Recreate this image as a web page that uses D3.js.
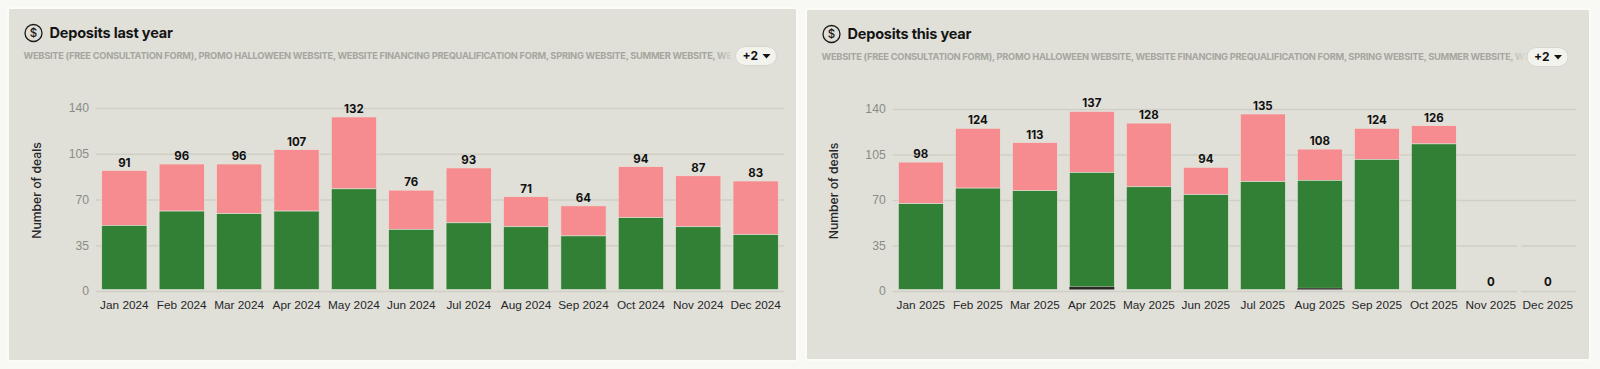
<!DOCTYPE html>
<html>
<head>
<meta charset="utf-8">
<script src="https://cdn.jsdelivr.net/npm/d3@7"></script>
<style>
  html, body { margin: 0; padding: 0; background: #f8f8f4; }
  svg { display: block; font-family: Inter, "Liberation Sans", sans-serif; }
  .grid line { stroke: #cfcfc6; stroke-width: 1.5; }
  .grid path, .axis path, .axis line { display: none; }
  .y-axis text { font-size: 12.2px; fill: #8b8b85; }
  .x-axis text { font-size: 11.8px; font-weight: 500; fill: #26262a; }
  .y-title { font-size: 12.2px; font-weight: 500; fill: #26262a; }
  .total { font-size: 11.5px; font-weight: 700; fill: #111; text-anchor: middle; }
  .title { font-size: 14.5px; font-weight: 700; fill: #141414; letter-spacing: -0.2px; }
  .sources { font-size: 9.3px; font-weight: 700; fill: #a6a69f; letter-spacing: -0.27px; }
  .more { font-size: 12px; font-weight: 700; fill: #111; }
</style>
</head>
<body>
<svg id="chart" width="1600" height="369"></svg>
<script>
const monthNames = ["Jan", "Feb", "Mar", "Apr", "May", "Jun", "Jul", "Aug", "Sep", "Oct", "Nov", "Dec"];
const yTicks = [0, 35, 70, 105, 140];
const sourcesText = "WEBSITE (FREE CONSULTATION FORM), PROMO HALLOWEEN WEBSITE, WEBSITE FINANCING PREQUALIFICATION FORM, SPRING WEBSITE, SUMMER WEBSITE, WE";

const months2024 = monthNames.map(m => `${m} 2024`);
const totals2024 = [91, 96, 96, 107, 132, 76, 93, 71, 64, 94, 87, 83];
const won2024 = [49, 60, 58, 60, 77, 46, 51, 48, 41, 55, 48, 42];
const dark2024 = [0, 0, 0, 0, 0, 0, 0, 0, 0, 0, 0, 0];

const months2025 = monthNames.map(m => `${m} 2025`);
const totals2025 = [98, 124, 113, 137, 128, 94, 135, 108, 124, 126, 0, 0];
const won2025 = [66, 78, 76, 88, 79, 73, 83, 83, 100, 112, 0, 0];
const dark2025 = [0, 0, 0, 2, 0, 0, 0, 1, 0, 0, 0, 0];

const colors = { dark: "#2b2a26", won: "#327f36", rest: "#f78c90" };

class DepositsPanel {
  constructor(svg, frame) {
    this.svg = svg;
    this.frame = frame;
  }

  draw(title, months, totals, won, dark) {
    const f = this.frame;
    const g = this.svg.append("g");

    g.append("rect")
      .attr("x", f.x).attr("y", f.y)
      .attr("width", f.w).attr("height", f.h)
      .attr("rx", 2)
      .attr("fill", "#e0e0d8")
      .attr("stroke", "#fbfbf8")
      .attr("stroke-width", 2);

    this.drawHeader(g, title);

    const x = d3.scaleBand().domain(months).range(f.xRange).paddingInner(0.212).paddingOuter(0.1);
    const y = d3.scaleLinear().domain([0, 140]).range(f.yRange);

    g.append("g")
      .attr("class", "grid")
      .attr("transform", `translate(${f.xRange[0]},0)`)
      .call(d3.axisLeft(y).tickValues(yTicks).tickSize(f.xRange[0] - f.xRange[1]).tickFormat(""));

    // the empty months break the two lowest grid lines, like the bars' pale edge does
    const last = months[months.length - 1];
    if (totals[totals.length - 1] === 0) {
      g.append("rect")
        .attr("x", x(last) - x.step() + x.bandwidth() + 4)
        .attr("y", y(35) - 2)
        .attr("width", 4)
        .attr("height", y(0) - y(35) + 4)
        .attr("fill", "#e0e0d8");
    }

    g.append("g")
      .attr("class", "axis y-axis")
      .attr("transform", `translate(${f.xRange[0] - 7},0)`)
      .call(d3.axisLeft(y).tickValues(yTicks).tickSize(0).tickPadding(0));

    g.append("g")
      .attr("class", "axis x-axis")
      .attr("transform", `translate(0,${f.yRange[0] + 4})`)
      .call(d3.axisBottom(x).tickSize(0).tickPadding(6));

    g.append("text")
      .attr("class", "y-title")
      .attr("text-anchor", "middle")
      .attr("transform", `translate(${f.xRange[0] - 55},${y(70) - 9}) rotate(-90)`)
      .text("Number of deals");

    const rows = months.map((month, i) => ({
      month, dark: dark[i], won: won[i], rest: totals[i] - won[i] - dark[i], total: totals[i]
    }));
    const layers = d3.stack().keys(["dark", "won", "rest"])(rows);

    // bars sit a little above the zero line and have a thin pale edge,
    // the thin dark layer goes on top so the edge doesn't eat it
    const bars = g.append("g").attr("transform", "translate(0,-1.5)");
    bars.selectAll("g")
      .data(layers.slice().reverse())
      .join("g")
      .attr("fill", d => colors[d.key])
      .attr("stroke", d => d.key === "dark" ? "none" : "#e6e6dc")
      .attr("stroke-width", 0.6)
      .selectAll("rect")
      .data(d => d.filter(p => p[1] > p[0]))
      .join("rect")
      .attr("x", d => x(d.data.month))
      .attr("width", x.bandwidth())
      .attr("y", d => y(d[1]))
      .attr("height", d => y(d[0]) - y(d[1]));

    g.selectAll(".total")
      .data(rows)
      .join("text")
      .attr("class", "total")
      .attr("x", d => x(d.month) + x.bandwidth() / 2)
      .attr("y", d => y(d.total) - 5.5)
      .text(d => d.total);
  }

  drawHeader(g, title) {
    const f = this.frame;

    const icon = g.append("g").attr("transform", `translate(${f.x + 25.5},${f.titleY})`);
    icon.append("circle").attr("r", 8.5).attr("fill", "none").attr("stroke", "#1b1b1b").attr("stroke-width", 1.3);
    icon.append("text")
      .attr("text-anchor", "middle").attr("dy", "0.36em")
      .attr("font-size", 11.5).attr("font-weight", 500).attr("fill", "#1b1b1b")
      .text("$");

    g.append("text")
      .attr("class", "title")
      .attr("x", f.x + 41.5)
      .attr("y", f.titleY + 5)
      .text(title);

    g.append("text")
      .attr("class", "sources")
      .attr("x", f.x + 15.5)
      .attr("y", f.titleY + 26)
      .text(sourcesText);

    // fade the cut end of the list under the pill
    const gradId = `fade-${f.x}`;
    const grad = g.append("linearGradient").attr("id", gradId);
    grad.append("stop").attr("offset", 0).attr("stop-color", "#e0e0d8").attr("stop-opacity", 0);
    grad.append("stop").attr("offset", 1).attr("stop-color", "#e0e0d8");
    g.append("rect")
      .attr("x", f.pillX - 20).attr("y", f.titleY + 14)
      .attr("width", 20).attr("height", 16)
      .attr("fill", `url(#${gradId})`);

    const pill = g.append("g").attr("transform", `translate(${f.pillX},${f.titleY + 13.5})`);
    pill.append("rect")
      .attr("width", 41).attr("height", 19).attr("rx", 9.5)
      .attr("fill", "#f3f3ee").attr("stroke", "#d6d6cd");
    pill.append("text").attr("class", "more").attr("x", 7).attr("y", 13.5).text("+2");
    pill.append("path").attr("d", "M27 7.5h8l-4 4.5z").attr("fill", "#111");
  }
}

const svg = d3.select("#chart");

new DepositsPanel(svg, {
  x: 8, y: 8, w: 789, h: 353, titleY: 33, pillX: 735.5,
  xRange: [96, 784], yRange: [291, 108]
}).draw("Deposits last year", months2024, totals2024, won2024, dark2024);

new DepositsPanel(svg, {
  x: 806, y: 9, w: 784, h: 351, titleY: 34, pillX: 1527,
  xRange: [892.7, 1576], yRange: [291, 109]
}).draw("Deposits this year", months2025, totals2025, won2025, dark2025);
</script>
</body>
</html>
